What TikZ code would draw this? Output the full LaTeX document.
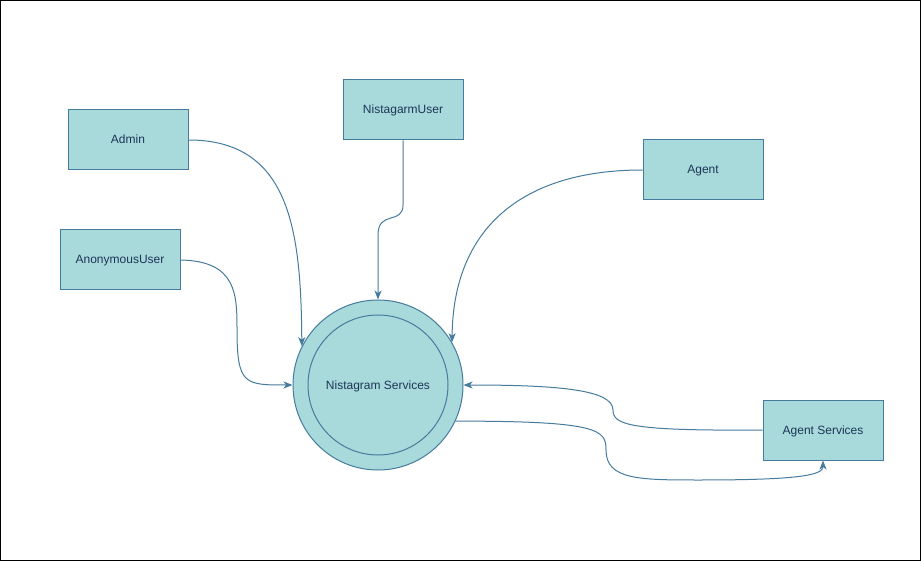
\documentclass[tikz,border=0pt]{standalone}
\usepackage{fontspec}
\setmainfont{Liberation Sans}
\usetikzlibrary{arrows.meta,positioning,shapes}
\usepackage{xcolor}
\definecolor{boxfill}{HTML}{A8DADC}
\definecolor{boxline}{HTML}{457B9D}
\definecolor{boxtext}{HTML}{1D3557}

\begin{document}
\begin{tikzpicture}[x=1pt, y=-1pt, line width=1pt, every node/.style={
    rectangle,
    inner sep=3pt,
    draw=boxline,
    fill=boxfill,
    text=boxtext,
    font=\fontsize{12}{14}\selectfont,
    text height=9pt,
    text depth=1pt,
    minimum width=120pt,
    minimum height=60pt
}]
    \draw[black] (0.5, 0.5) rectangle (920.5, 560.5);
    \useasboundingbox (0, 0) rectangle (921, 561);

    \node (admin) [shift={(128, 140)}]
    {
        Admin
    };
    \node (anonymous_user) [shift={(120, 260)}]
    {
        AnonymousUser
    };



    \node (nistagarm_user) [shift={(403, 110)}]
    {
        NistagarmUser
    };
    \node (agent) [shift={(703, 170)}]
    {
        Agent
    };




    \node (services) [circle, minimum size=170pt, shift={(378, 385)}] {};
    \node (services_inner) [circle, minimum size=140pt, fill=none, shift={(378, 385)}]
    {
        Nistagram Services
    };



    \node (agent_services) [shift={(823, 430)}]
    {
        Agent Services
    };




    \draw[-{Stealth[length=9pt, width=7pt, inset=2.5pt]}, boxline] (admin.east) .. controls (290, 140) and (301, 230) .. (services.153);
    \draw[-{Stealth[length=9pt, width=7pt, inset=2.5pt]}, boxline] (nistagarm_user.south) -- (403, 205) .. controls (403, 225) and (378, 210) .. (378, 235) -- (services.north);
    \draw[-{Stealth[length=9pt, width=7pt, inset=2.5pt]}, boxline] (agent.west) .. controls (520, 170) and (453, 230) .. (services.30);
    \draw[-{Stealth[length=9pt, width=7pt, inset=2.5pt]}, boxline] (anonymous_user.east) .. controls (237, 261) and (237, 295) .. (237, 330) .. controls (237, 385) and (245, 385) .. (services.west);
    \draw[-{Stealth[length=9pt, width=7pt, inset=2.5pt]}, boxline] (agent_services.west) .. controls (630, 431) and (613, 425) .. (613, 410) .. controls (613, 390) and (560, 385) .. (services.east);
    \draw[-{Stealth[length=9pt, width=7pt, inset=2.5pt]}, boxline] (services.-25) .. controls (600, 421) and (606, 430) .. (606, 450) .. controls (606, 480) and (640, 480) .. (700, 480) .. controls (800, 480) and (823, 475) .. (agent_services.south);


\end{tikzpicture}
\end{document}
